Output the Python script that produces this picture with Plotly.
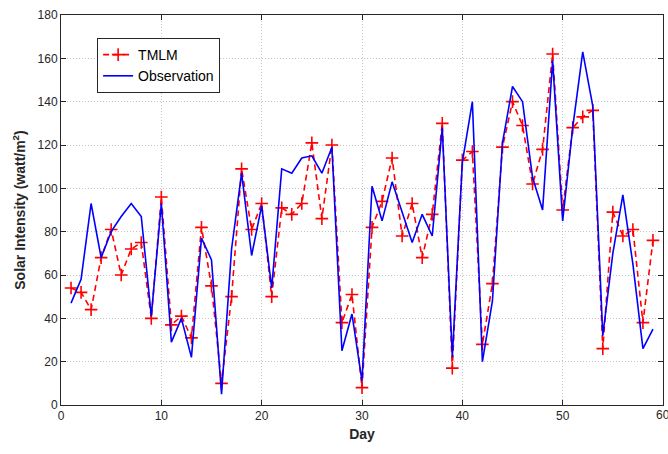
import plotly.graph_objects as go

days = list(range(1, 60))
tmlm = [54, 52, 44, 68, 81, 60, 72, 75, 40, 96, 37, 41, 31, 82, 55,
        10, 50, 109, 81, 93, 50, 91, 88, 93, 121, 86, 120, 38, 51,
        8, 82, 94, 114, 78, 93, 68, 88, 130, 17, 113, 117, 28, 56, 119,
        140, 129, 102, 118, 162, 90, 128, 133, 136, 26, 89, 78, 81, 38, 76]
obs = [47, 58, 93, 68, 80, 87, 93, 87, 41, 93, 29, 40, 22, 77, 67,
       5, 72, 107, 69, 92, 54, 109, 107, 114, 115, 107, 119, 25, 42,
       11, 101, 85, 103, 89, 75, 88, 78, 128, 22, 112, 140, 20, 48, 121,
       147, 140, 105, 90, 159, 85, 128, 163, 138, 32, 70, 97, 65, 26, 35]
x_ticks = [0, 10, 20, 30, 40, 50, 60]
y_ticks = [0, 20, 40, 60, 80, 100, 120, 140, 160, 180]

fig = go.Figure()
fig.add_trace(go.Scatter(
    x=days, y=tmlm, name="TMLM", mode="lines+markers",
    line=dict(color="#ff0000", width=1.6, dash="6px,4px"),
    marker=dict(symbol="cross-thin", size=9, line=dict(color="#ff0000", width=1.6)),
))
fig.add_trace(go.Scatter(
    x=days, y=obs, name="Observation", mode="lines",
    line=dict(color="#0000ff", width=1.6),
))

tickfont = dict(family="Liberation Sans", size=12, color="#262626")
axis_common = dict(
    showline=True, linecolor="#262626", linewidth=1, mirror="ticks",
    ticks="inside", ticklen=5, tickcolor="#262626",
    showgrid=True, gridcolor="#c4c4c4", griddash="1px,2px", gridwidth=1,
    zeroline=False, automargin=False, tickfont=tickfont,
)

# last x tick label is drawn as an annotation so it can run off the page edge like the reference
x_labels = [str(v) for v in x_ticks[:-1]] + [""]
fig.update_xaxes(range=[0, 60], tickvals=x_ticks, ticktext=x_labels,
                 title=dict(text="<b>Day</b>", font=dict(family="Liberation Sans", size=14, color="#262626"), standoff=6),
                 **axis_common)
fig.update_yaxes(range=[0, 180], tickvals=y_ticks, ticktext=[str(v) for v in y_ticks],
                 title=dict(text="<b>Solar Intensity (watt/m<sup>2</sup>)</b>", font=dict(family="Liberation Sans", size=14, color="#262626"), standoff=8),
                 **axis_common)

fig.add_annotation(x=x_ticks[-1], xref="x", y=0, yref="paper", yanchor="top", xanchor="center",
                   yshift=-1, text=str(x_ticks[-1]), showarrow=False, font=tickfont)

fig.update_layout(
    width=668, height=454,
    margin=dict(l=61, r=5, t=15, b=49),
    plot_bgcolor="white", paper_bgcolor="white",
    legend=dict(x=0.06, y=0.941, xanchor="left", yanchor="top",
                bgcolor="white", bordercolor="#262626", borderwidth=1,
                font=dict(family="Liberation Sans", size=14, color="#000000"),
                tracegroupgap=0, itemwidth=30),
    showlegend=True,
)

fig.write_html("out.html")
